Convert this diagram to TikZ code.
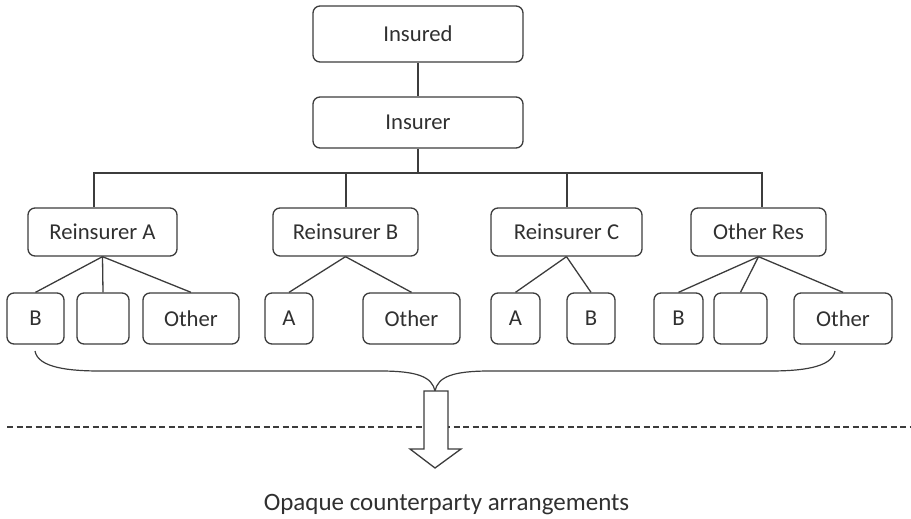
\documentclass[tikz,border=0pt]{standalone}
\usepackage{fontspec}
\setmainfont{Carlito}
\definecolor{ln}{HTML}{3C3C3C}
\definecolor{tx}{HTML}{303030}
\tikzset{
  bx/.style={draw=ln, line width=1.3pt, rounded corners=7pt, inner sep=0pt,
    text=tx, font=\fontsize{22.7}{27}\selectfont},
  cn/.style={draw=ln, line width=1.3pt},
}
\begin{document}
\begin{tikzpicture}[x=1pt,y=-1pt]
\useasboundingbox (0,0) rectangle (911,519);
% top
\node[bx, minimum width=210pt, minimum height=56pt] (insured) at (418,34) {Insured};
\node[bx, minimum width=210pt, minimum height=51pt] (insurer) at (418,122.5) {Insurer};
% reinsurers
\node[bx, minimum width=149pt, minimum height=48pt] (ra) at (102.5,232) {Reinsurer A};
\node[bx, minimum width=145pt, minimum height=48pt] (rb) at (345.5,232) {Reinsurer B};
\node[bx, minimum width=151pt, minimum height=48pt] (rc) at (566.5,232) {Reinsurer C};
\node[bx, minimum width=135pt, minimum height=48pt] (ro) at (758.5,232) {Other Res};
% children
\node[bx, minimum width=57pt, minimum height=51pt] (aB) at (35.5,318.5) {B};
\node[bx, minimum width=52pt, minimum height=51pt] (aX) at (103,318.5) {};
\node[bx, minimum width=96pt, minimum height=51pt] (aO) at (191,318.5) {Other};
\node[bx, minimum width=48pt, minimum height=51pt] (bA) at (289,318.5) {A};
\node[bx, minimum width=97pt, minimum height=51pt] (bO) at (411.5,318.5) {Other};
\node[bx, minimum width=49pt, minimum height=51pt] (cA) at (515.5,318.5) {A};
\node[bx, minimum width=48pt, minimum height=51pt] (cB) at (591,318.5) {B};
\node[bx, minimum width=49pt, minimum height=51pt] (dB) at (678.5,318.5) {B};
\node[bx, minimum width=53pt, minimum height=51pt] (dX) at (740.5,318.5) {};
\node[bx, minimum width=98pt, minimum height=51pt] (dO) at (843,318.5) {Other};
% connectors
\coordinate (bus) at (0,173);
\draw[cn] (insured.south) -- (insurer.north);
\draw[cn] (insurer.south) -- (insurer.south |- bus);
\draw[cn] ([xshift=-8.5pt]ra.north) -- ([xshift=-8.5pt]ra.north |- bus) -| ([xshift=3.5pt]ro.north);
\draw[cn] ([xshift=0.5pt]rb.north) -- ([xshift=0.5pt]rb.north |- bus);
\draw[cn] ([xshift=0.5pt]rc.north) -- ([xshift=0.5pt]rc.north |- bus);
\draw[cn] (ra.south) -- (aB.north);
\draw[cn] (ra.south) -- (aX.north);
\draw[cn] (ra.south) -- (aO.north);
\draw[cn] (rb.south) -- (bA.north);
\draw[cn] (rb.south) -- (bO.north);
\draw[cn] (rc.south) -- (cA.north);
\draw[cn] (rc.south) -- (cB.north);
\draw[cn] (ro.south) -- (dB.north);
\draw[cn] (ro.south) -- (dX.north);
\draw[cn] (ro.south) -- (dO.north);
% brace
\coordinate (bl) at (35,351);
\coordinate (br) at (835,351);
\coordinate (tip) at (435,391);
\draw[cn, line width=1.2pt] (bl) .. controls (38,368) and (70,371) .. (100,371)
  -- (380,371) .. controls (418,371) and (432,377) .. (tip)
  .. controls (438,377) and (452,371) .. (490,371)
  -- (770,371) .. controls (800,371) and (832,368) .. (br);
% dashed line
\coordinate (dl) at (7,427);
\coordinate (dr) at (911,427);
\draw[cn, line width=1.2pt, dash pattern=on 6pt off 3.5pt] (dl) -- (dr);
% arrow
\draw[cn, line width=1.3pt, fill=white, line join=miter]
  (424,391) -- (448,391) -- (448,449) -- (461,449) -- (435,468) -- (410,449) -- (424,449) -- cycle;
% label
\node[text=tx, font=\fontsize{25}{30}\selectfont, anchor=base, inner sep=0pt] (lbl) at (446.5,510) {Opaque counterparty arrangements};
\end{tikzpicture}
\end{document}
